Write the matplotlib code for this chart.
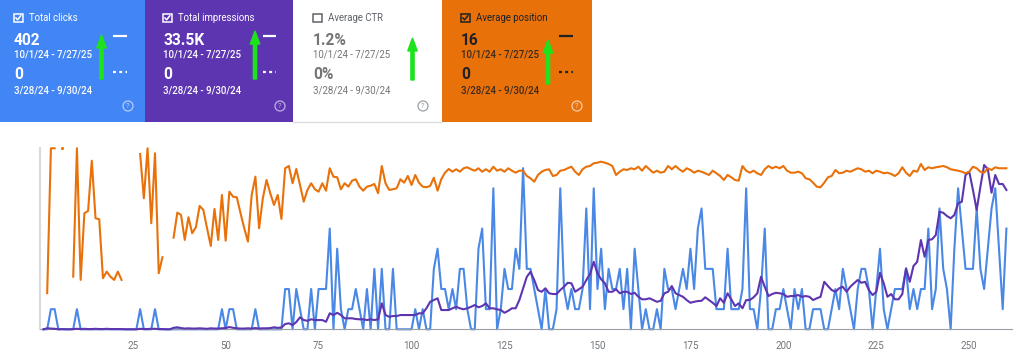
import numpy as np
import matplotlib
matplotlib.use("Agg")
import matplotlib.pyplot as plt
from matplotlib.patches import Rectangle, Circle, FancyArrow

plt.rcParams['font.family'] = ['Roboto', 'DejaVu Sans']

# ---------------- data ----------------
days = list(range(1, 261))

clicks = [
    0, 0, 1, 1, 0, 0, 0, 0, 0, 1,
    0, 0, 0, 0, 0, 0, 0, 0, 0, 0,
    0, 0, 0, 0, 0, 0, 1, 0, 0, 0,
    1, 0, 0, 0, 0, 0, 0, 0, 0, 0,
    0, 0, 0, 0, 0, 0, 0, 0, 1, 0,
    1, 1, 0, 0, 0, 0, 0, 1, 0, 0,
    0, 0, 0, 0, 0, 2, 2, 0, 2, 1,
    0, 0, 2, 0, 2, 2, 2, 5, 0, 4,
    1, 0, 1, 1, 2, 1, 0, 2, 0, 3,
    0, 3, 0, 0, 3, 0, 0, 0, 0, 0,
    1, 0, 1, 0, 0, 3, 4, 2, 2, 1,
    2, 1, 3, 3, 1, 0, 0, 4, 5, 1,
    1, 7, 0, 1, 3, 2, 2, 4, 3, 8,
    3, 3, 2, 1, 0, 2, 0, 0, 1, 7,
    2, 1, 2, 1, 1, 2, 6, 1, 7, 2,
    4, 1, 3, 2, 2, 3, 1, 3, 0, 4,
    2, 0, 1, 0, 0, 1, 0, 3, 2, 2,
    1, 2, 3, 2, 4, 2, 5, 6, 3, 3,
    3, 1, 1, 1, 4, 1, 1, 1, 2, 7,
    1, 1, 0, 2, 5, 0, 0, 1, 1, 2,
    1, 0, 2, 1, 2, 0, 0, 1, 1, 1,
    0, 0, 1, 2, 1, 3, 2, 1, 0, 2,
    3, 3, 2, 0, 2, 4, 1, 0, 1, 2,
    2, 2, 3, 1, 2, 1, 2, 2, 5, 1,
    2, 6, 3, 2, 0, 4, 7, 5, 3, 3,
    3, 6, 3, 2, 4, 6, 7, 4, 1, 5,
]

impressions = [
    0, 4, 3, 2, 0, 1, 0, 0, 1, 2,
    1, 2, 1, 1, 2, 1, 1, 2, 1, 1,
    1, 1, 0, 0, 0, 0, 2, 1, 1, 2,
    2, 1, 1, 0, 0, 6, 8, 5, 3, 4,
    3, 3, 4, 3, 2, 4, 3, 3, 4, 5,
    9, 6, 4, 3, 3, 4, 3, 5, 3, 4,
    4, 5, 8, 6, 7, 21, 24, 17, 29, 48,
    37, 34, 40, 37, 37, 37, 30, 64, 57, 66,
    57, 44, 44, 44, 41, 40, 40, 37, 40, 37,
    40, 104, 57, 50, 53, 53, 57, 57, 57, 57,
    57, 64, 64, 84, 110, 117, 124, 77, 77, 77,
    84, 90, 84, 80, 84, 90, 97, 88, 93, 104,
    84, 84, 80, 77, 66, 74, 84, 84, 117, 164,
    210, 230, 197, 157, 150, 164, 144, 141, 141, 157,
    170, 186, 184, 150, 160, 170, 197, 221, 270, 224,
    200, 184, 150, 150, 160, 144, 150, 150, 141, 146,
    130, 120, 120, 124, 117, 110, 114, 144, 150, 173,
    144, 137, 130, 117, 106, 110, 113, 114, 128, 117,
    106, 93, 124, 106, 144, 120, 93, 104, 84, 117,
    117, 128, 144, 210, 170, 133, 141, 146, 144, 141,
    130, 133, 133, 137, 130, 133, 130, 117, 124, 130,
    190, 173, 157, 150, 164, 170, 150, 170, 184, 197,
    186, 190, 157, 137, 150, 226, 184, 130, 141, 120,
    120, 141, 244, 190, 253, 270, 357, 290, 357, 360,
    377, 470, 466, 453, 444, 457, 504, 510, 617, 630,
    557, 477, 570, 657, 640, 546, 617, 581, 581, 557,
]

position = [
    None, 102.7, 1.2, 1.2, None, 1.2, None, None, 91.1, 1.2,
    93.4, 46.7, 45.1, 9.9, 50.2, 50.9, 92.2, 87.6, 91.1, 93.4,
    87.6, 93.4, None, None, None, None, 5.2, 36.2, 1.2, 53.7,
    4.7, 88.7, 77.5, None, None, 63.8, 46.3, 47.9, 65.4, 49.5,
    60.7, 56.5, 41.6, 44.4, 57.2, 69.6, 43.7, 65.4, 33.9, 65.9,
    31.6, 35.1, 35.5, 46.7, 57.2, 66.6, 33.9, 21.1, 57.2, 36.2,
    23.4, 32.7, 40.9, 33.9, 50.7, 15.2, 13.6, 25.7, 15.7, 26.9,
    38.6, 30.4, 25.7, 29.9, 31.6, 25.7, 30.9, 15.2, 21.1, 21.5,
    29.9, 25.7, 28.1, 23.9, 22.9, 28.1, 30.9, 28.1, 27.4, 26.2,
    32.7, 13.6, 25.7, 30.4, 29.9, 29.2, 22.9, 25.3, 20.6, 26.9,
    19.9, 25.3, 28.1, 28.5, 27.6, 21.8, 30.9, 22.9, 18.3, 15.7,
    17.6, 15.9, 17.6, 15.2, 14.5, 15.9, 16.9, 15.2, 17.6, 15.9,
    17.6, 14.1, 16.9, 15.9, 17.6, 15.2, 16.9, 18.3, 16.9, 16.9,
    20.6, 22.2, 24.6, 19.9, 17.6, 16.4, 15.9, 20.6, 19.9, 16.9,
    16.4, 15.2, 14.1, 17.6, 19.9, 15.9, 14.1, 13.6, 11.7, 11.3,
    10.6, 11.3, 12.2, 13.6, 19.9, 17.6, 15.9, 16.4, 15.2, 15.9,
    14.1, 16.9, 13.6, 15.9, 18.3, 16.9, 18.3, 17.6, 13.6, 15.9,
    13.6, 15.9, 17.6, 15.2, 16.4, 18.3, 16.9, 17.6, 18.7, 19.9,
    16.9, 18.7, 20.6, 23.4, 19.9, 21.5, 23.4, 23.9, 13.6, 16.9,
    18.3, 16.9, 18.7, 19.9, 15.9, 13.6, 15.2, 14.1, 15.2, 13.6,
    16.9, 18.3, 18.3, 17.6, 18.7, 22.2, 22.9, 25.3, 28.1, 28.5,
    25.3, 21.5, 20.6, 16.4, 18.7, 18.3, 16.9, 17.6, 16.4, 15.2,
    15.9, 17.6, 16.9, 18.7, 16.9, 17.6, 18.7, 18.3, 19.2, 20.6,
    18.7, 14.5, 18.3, 20.6, 16.9, 17.6, 12.2, 16.4, 14.5, 15.2,
    14.5, 14.1, 13.6, 14.5, 15.9, 16.4, 16.9, 17.6, 18.7, 17.6,
    14.1, 15.2, 17.6, 18.3, 15.2, 16.4, 14.5, 15.2, 15.2, 15.2,
]

x_ticks = [25, 50, 75, 100, 125, 150, 175, 200, 225, 250]

card_titles = ["Total clicks", "Total impressions", "Average CTR", "Average position"]
card_current = ["402", "33.5K", "1.2%", "16"]
card_previous = ["0", "0", "0%", "0"]
range_current = "10/1/24 - 7/27/25"
range_previous = "3/28/24 - 9/30/24"
card_checked = [True, True, False, True]

# ---------------- figure ----------------
W, H = 1024, 358
fig = plt.figure(figsize=(W / 100, H / 100), dpi=100)
fig.patch.set_facecolor("white")

bg = fig.add_axes([0, 0, 1, 1])
bg.set_xlim(0, W)
bg.set_ylim(H, 0)
bg.axis("off")

BLUE = "#4285F4"
PURPLE = "#5E35B1"
ORANGE = "#E8710A"
GREEN = "#1EE21E"

cards = [
    dict(x0=0, w=145, face=BLUE, off=14, txt="white", sub="white", box="white",
         dash=(113, 127), help=(128, 106), help_col=(1, 1, 1, 0.6), arrow=(101.5, 35, 79)),
    dict(x0=145, w=148, face=PURPLE, off=18, txt="white", sub="white", box="white",
         dash=(263, 276), help=(280, 106), help_col=(1, 1, 1, 0.6), arrow=(255, 31, 79)),
    dict(x0=293, w=149, face="white", off=20, txt="#757575", sub="#757575", box="#5f6368",
         dash=None, help=(423, 106), help_col="#9aa0a6", arrow=(412.5, 38, 80)),
    dict(x0=442, w=150, face=ORANGE, off=19, txt="#202124", sub="#3a2a1a", box="#202124",
         dash=(559, 573), help=(577, 106), help_col=(1, 1, 1, 0.65), arrow=(548, 40, 84)),
]

for k, c in enumerate(cards):
    x0 = c["x0"]
    bg.add_patch(Rectangle((x0, 0), c["w"], 122, facecolor=c["face"], edgecolor="none", zorder=1))
    if c["face"] == "white":
        bg.plot([x0, x0 + c["w"]], [121.5, 121.5], color="#dadce0", lw=1, zorder=2)
    bx = x0 + c["off"]
    # checkbox
    bg.add_patch(Rectangle((bx, 13.5), 8.5, 8.5, facecolor="none", edgecolor=c["box"], lw=1.1, zorder=3))
    if card_checked[k]:
        bg.plot([bx + 1.8, bx + 3.6, bx + 6.9], [17.8, 19.8, 15.6], color=c["box"], lw=1.1,
                solid_capstyle="round", zorder=4)
    tcol = c["txt"] if c["face"] != "white" else "#5f6368"
    bg.text(bx + 15, 21.3, card_titles[k], fontsize=6.9, color=tcol, ha="left", va="baseline", zorder=4)
    bg.text(bx, 45, card_current[k], fontsize=11.2, fontweight="bold", color=c["txt"],
            ha="left", va="baseline", zorder=4)
    w_date = "medium" if c["face"] != "white" else "normal"
    bg.text(bx, 58, range_current, fontsize=6.9, fontweight=w_date, color=c["sub"],
            ha="left", va="baseline", zorder=4)
    bg.text(bx, 79, card_previous[k], fontsize=11.2, fontweight="bold", color=c["txt"],
            ha="left", va="baseline", zorder=4)
    bg.text(bx, 94, range_previous, fontsize=6.9, fontweight=w_date, color=c["sub"],
            ha="left", va="baseline", zorder=4)
    # legend marks
    if c["dash"] is not None:
        lc = "white" if c["face"] != ORANGE else "#202124"
        bg.plot(list(c["dash"]), [35.5, 35.5], color=lc, lw=1.6, solid_capstyle="butt", zorder=4)
        bg.plot(list(c["dash"]), [71.5, 71.5], color=lc, lw=1.6, linestyle=(0, (1.3, 1.5)), zorder=4)
    # help icon
    hx, hy = c["help"]
    bg.add_patch(Circle((hx, hy), 5, facecolor="none", edgecolor=c["help_col"], lw=0.9, zorder=4))
    bg.text(hx, hy + 0.3, "?", fontsize=5.5, color=c["help_col"], ha="center", va="center", zorder=4)
    # green arrow
    ax_, tip, bot = c["arrow"]
    bg.add_patch(FancyArrow(ax_, bot, 0, -(bot - tip), width=3.2, head_width=9.5, head_length=13,
                            length_includes_head=True, color=GREEN, zorder=5))

# ---------------- chart ----------------
rect = [39.75 / W, (H - 329.3) / H, (1012 - 39.75) / W, (329.3 - 148) / H]
ax = fig.add_axes(rect)
ax.patch.set_alpha(0)
ax2 = ax.twinx()
ax3 = ax.twinx()

x = np.array(days)
clk = np.array(clicks, dtype=float)
imp = np.array(impressions, dtype=float)
pos = np.array([np.nan if v is None else v for v in position], dtype=float)

ax.plot(x, clk, color="#4a88e6", lw=1.5, clip_on=False, solid_joinstyle="round")
ax2.plot(x, imp, color=PURPLE, lw=1.5, clip_on=False, solid_joinstyle="round")
ax3.plot(x, pos, color=ORANGE, lw=1.5, clip_on=False, solid_joinstyle="round")
prev_nan = np.concatenate([[True], np.isnan(pos[:-1])])
next_nan = np.concatenate([np.isnan(pos[1:]), [True]])
iso = ~np.isnan(pos) & prev_nan & next_nan
ax3.scatter(x[iso], pos[iso], s=5, color=ORANGE, clip_on=False, linewidths=0)

ax.set_xlim(0, 261.5)
ax.set_ylim(0, 9)
ax2.set_ylim(0, 725)
ax3.set_ylim(128, 1)

for a in (ax, ax2, ax3):
    a.set_yticks([])
    for s in a.spines.values():
        s.set_visible(False)
ax.spines["left"].set_visible(True)
ax.spines["left"].set_color("#dadce0")
ax.spines["left"].set_linewidth(1.6)
ax.spines["bottom"].set_visible(True)
ax.spines["bottom"].set_color("#9aa0a6")
ax.spines["bottom"].set_linewidth(0.8)

ax.set_xticks(x_ticks)
ax.set_xticklabels([str(t) for t in x_ticks])
ax.tick_params(axis="x", length=0, pad=8.5, labelsize=7, labelcolor="#70757a")

fig.savefig("out.png", dpi=100)
